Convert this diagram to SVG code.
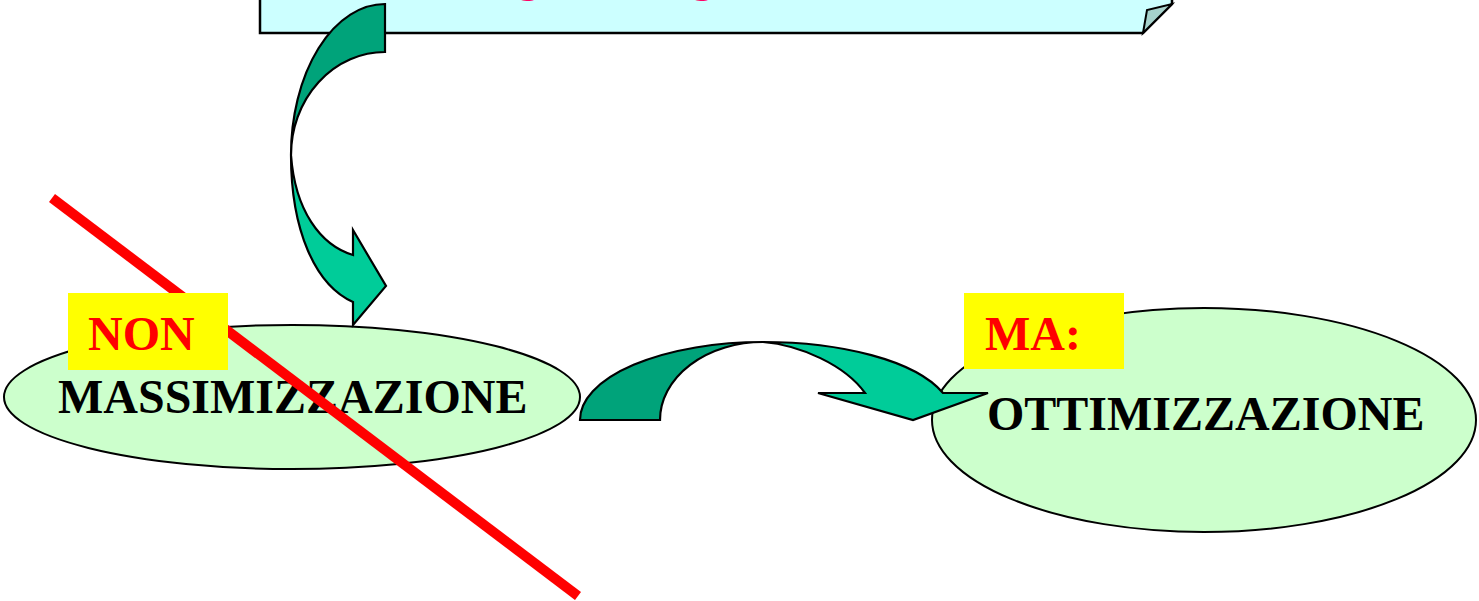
<svg xmlns="http://www.w3.org/2000/svg" width="1479" height="601" viewBox="0 0 1479 601">
<style>
.ell{fill:#CCFFCC;stroke:#000;stroke-width:2}
.lbl{font-family:"Liberation Serif",serif;font-weight:bold;font-size:48px;fill:#000}
.tag{font-family:"Liberation Serif",serif;font-weight:bold;font-size:48px;fill:#FF0000}
.box{fill:#FFFF00}
.dk{fill:#00A37A;stroke:#000;stroke-width:2.2;stroke-linejoin:miter}
.lt{fill:#00CC99;stroke:#000;stroke-width:2.2;stroke-linejoin:miter}
</style>
<rect width="1479" height="601" fill="#FFFFFF"/>
<g id="banner">
<path d="M260,-20 L1172,-20 L1172,4 L1143,33 L260,33 Z" fill="#CCFFFF" stroke="#000" stroke-width="2.5"/>
<path d="M1143,33 L1147,10 L1172,4 Z" fill="#A6D2CC" stroke="#000" stroke-width="2"/>
<text x="516" y="-9" font-family="Liberation Serif,serif" font-weight="bold" font-size="48" fill="#FF0066">g</text>
<text x="690" y="-9" font-family="Liberation Serif,serif" font-weight="bold" font-size="48" fill="#FF0066">g</text>
</g>
<g id="node-massimizzazione">
<ellipse class="ell" cx="292" cy="397" rx="288" ry="72"/>
<text class="lbl" x="58" y="413">MASSIMIZZAZIONE</text>
</g>
<g id="node-ottimizzazione">
<ellipse class="ell" cx="1204" cy="420" rx="272" ry="112"/>
<text class="lbl" x="987" y="430">OTTIMIZZAZIONE</text>
</g>
<g id="connectors">
<g id="arrow-down">
<path class="lt" d="M291,155 C291,230 315,285 353,302 L353,325 L386,286 L353,230 L353,255 C320,245 295,210 291,155 Z"/>
<path class="dk" d="M385,4 A94,151 0 0 0 291,155 A94,103 0 0 1 385,52 Z"/>
</g>
<g id="arrow-right">
<path class="dk" d="M580,420 A183,78 0 0 1 763,342 A103,78 0 0 0 660,420 Z"/>
<path class="lt" d="M763,342 C840,342 915,360 943,393 L988,393 L913,420 L818,393 L865,393 C845,365 800,345 763,342 Z"/>
</g>
</g>
<g id="strike">
<line x1="52" y1="198" x2="578" y2="596" stroke="#FF0000" stroke-width="10"/>
</g>
<g id="tag-non">
<rect class="box" x="68" y="293" width="160" height="77"/>
<text class="tag" x="88" y="350">NON</text>
</g>
<g id="tag-ma">
<rect class="box" x="964" y="293" width="160" height="76"/>
<text class="tag" x="985" y="350">MA:</text>
</g>
</svg>
